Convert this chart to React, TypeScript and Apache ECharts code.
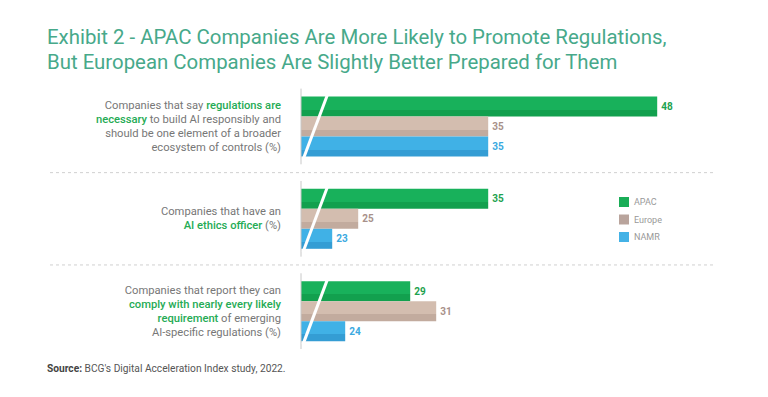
import React, { useEffect, useRef } from "react";
import * as echarts from "echarts";

const categories = [
  "Companies that say {g|regulations are}\n{g|necessary} to build AI responsibly and\nshould be one element of a broader\necosystem of controls (%)",
  "Companies that have an\n{g|AI ethics officer} (%)",
  "Companies that report they can\n{g|comply with nearly every likely}\n{g|requirement} of emerging\nAI-specific regulations (%)",
];
const seriesNames = ["APAC", "Europe", "NAMR"];
const apac = [48, 35, 29];
const europe = [35, 25, 31];
const namr = [35, 23, 24];

const titleText =
  "Exhibit 2 - APAC Companies Are More Likely to Promote Regulations,\nBut European Companies Are Slightly Better Prepared for Them";

const AXIS_MIN = 20.6;
const AXIS_MAX = 50;

const grad = (top: string, bottom: string) =>
  new echarts.graphic.LinearGradient(0, 0, 0, 1, [
    { offset: 0, color: top },
    { offset: 0.66, color: top },
    { offset: 0.66, color: bottom },
    { offset: 1, color: bottom },
  ]);

export default function App() {
  const ref = useRef<HTMLDivElement>(null);
  useEffect(() => {
    document.body.style.margin = "0";
    const chart = echarts.init(ref.current!, null, { renderer: "svg" });
    const font = "Roboto, 'Noto Sans', sans-serif";
    const barCommon = {
      type: "bar",
      barWidth: 20,
      barGap: "0%",
      clip: true,
      z: 2,
    };
    const option: any = {
      animation: false,
      backgroundColor: "#ffffff",
      textStyle: { fontFamily: font },
      title: {
        text: titleText,
        left: 47,
        top: 24,
        padding: 0,
        textStyle: {
          color: "#47a98a",
          fontSize: 20.4,
          fontWeight: "normal",
          lineHeight: 25,
          fontFamily: font,
        },
      },
      legend: {
        orient: "vertical",
        left: 614,
        top: 192,
        itemWidth: 10,
        itemHeight: 10,
        itemGap: 7.5,
        icon: "rect",
        textStyle: { color: "#999999", fontSize: 9, fontFamily: font },
        data: [
          { name: "APAC", itemStyle: { color: "#1aad57" } },
          { name: "Europe", itemStyle: { color: "#b9a49c" } },
          { name: "NAMR", itemStyle: { color: "#44b2e6" } },
        ],
      },
      grid: { left: 301, right: 84.8, top: 80.3, height: 277, containLabel: false },
      xAxis: {
        type: "value",
        min: AXIS_MIN,
        max: AXIS_MAX,
        show: false,
      },
      yAxis: {
        type: "category",
        inverse: true,
        data: categories,
        axisLine: { show: false },
        axisTick: { show: false },
        splitLine: { show: false },
        axisLabel: {
          margin: 20,
          align: "right",
          color: "#777777",
          fontSize: 11.2,
          lineHeight: 14,
          fontFamily: font,
          rich: {
            g: {
              color: "#25ab55",
              fontSize: 11.2,
              lineHeight: 14,
              fontWeight: 500,
              fontFamily: font,
            },
          },
        },
      },
      series: [
        {
          ...barCommon,
          name: seriesNames[0],
          data: apac,
          itemStyle: { color: grad("#18b15b", "#12a04e") },
          label: {
            show: true,
            position: "right",
            distance: 4,
            color: "#1ea24f",
            fontWeight: "bold",
            fontSize: 10,
            fontFamily: font,
          },
        },
        {
          ...barCommon,
          name: seriesNames[1],
          data: europe,
          itemStyle: { color: grad("#d3bdaf", "#c2ab9e") },
          label: {
            show: true,
            position: "right",
            distance: 4,
            color: "#a8918a",
            fontWeight: "bold",
            fontSize: 10,
            fontFamily: font,
          },
        },
        {
          ...barCommon,
          name: seriesNames[2],
          data: namr,
          itemStyle: { color: grad("#40b1e6", "#349dd4") },
          label: {
            show: true,
            position: "right",
            distance: 4,
            color: "#3ba9df",
            fontWeight: "bold",
            fontSize: 10,
            fontFamily: font,
          },
        },
        {
          type: "custom",
          name: "decor",
          z: 10,
          silent: true,
          clip: false,
          data: categories.map((_, i) => [AXIS_MIN, i]),
          encode: { x: 0, y: 1 },
          renderItem: (params: any, api: any) => {
            const idx = api.value(1);
            const pt = api.coord([AXIS_MIN, idx]);
            const x = pt[0];
            const cy = pt[1];
            const band = api.size([0, 1])[1];
            const children: any[] = [
              {
                type: "line",
                shape: { x1: x, y1: cy - band * 0.41, x2: x, y2: cy + band * 0.41 },
                style: { stroke: "#c8c8c8", lineWidth: 1 },
              },
              {
                type: "line",
                shape: { x1: x + 27, y1: cy - band * 0.36, x2: x + 2, y2: cy + band * 0.36 },
                style: { stroke: "#ffffff", lineWidth: 3 },
              },
            ];
            if (idx > 0) {
              children.push({
                type: "line",
                shape: { x1: 50, y1: cy - band / 2, x2: 715, y2: cy - band / 2 },
                style: { stroke: "#d0d0d0", lineWidth: 1, lineDash: [3, 3] },
              });
            }
            return { type: "group", children };
          },
        },
      ],
      graphic: [
        {
          type: "text",
          left: 47,
          top: 363,
          style: {
            text: "{b|Source:} BCG's Digital Acceleration Index study, 2022.",
            fill: "#555555",
            fontSize: 10.2,
            fontFamily: font,
            rich: {
              b: { fontWeight: "bold", fill: "#444444", fontSize: 10.2, fontFamily: font },
            },
          },
        },
      ],
    };
    chart.setOption(option);
    return () => chart.dispose();
  }, []);
  return <div ref={ref} style={{ width: 768, height: 397 }} />;
}
